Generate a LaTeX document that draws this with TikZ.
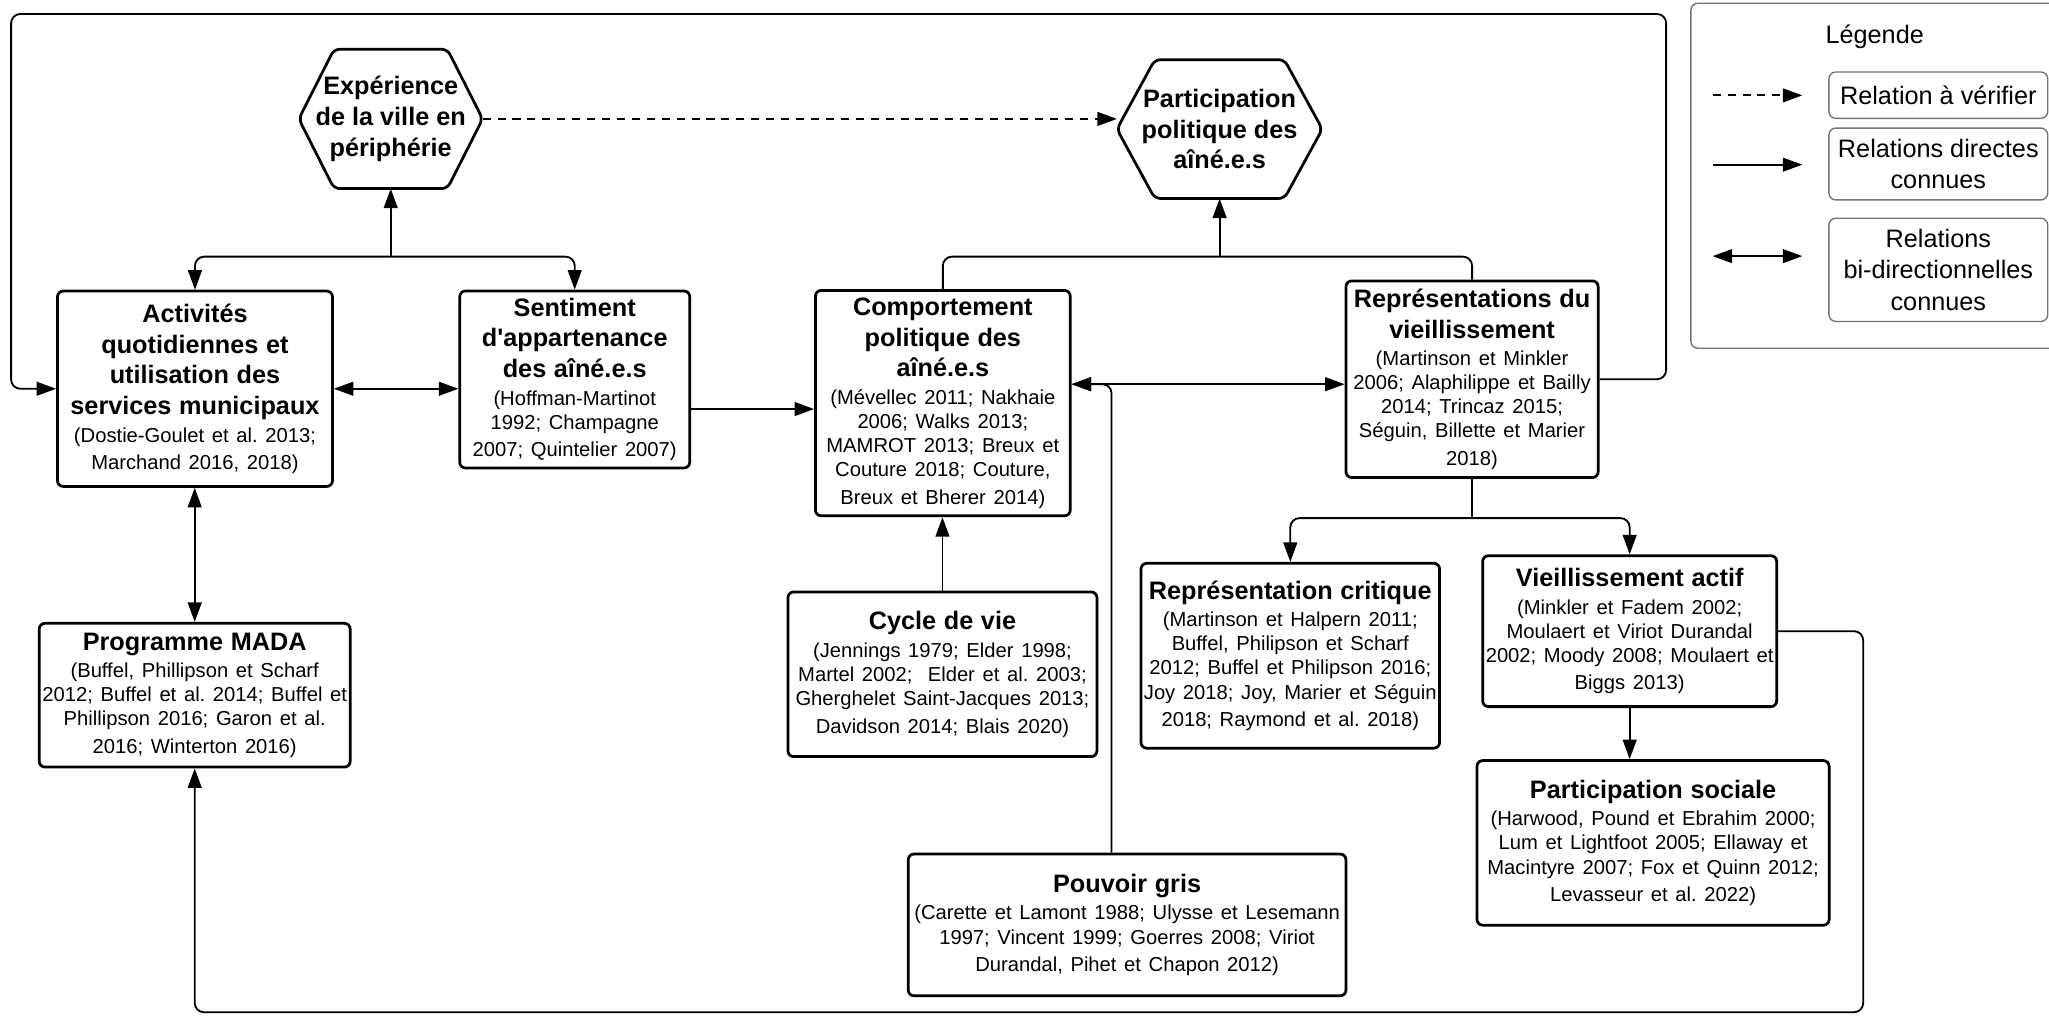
\documentclass[tikz,border=0pt]{standalone}
\usepackage{fontspec}
\setmainfont{Liberation Sans}
\usetikzlibrary{arrows.meta}
\frenchspacing
\newcommand\titleFont{\fontsize{11}{13.4}\selectfont\bfseries}
\newcommand\citeFont{\par\vspace{1.5pt}\fontsize{8.8}{10.5}\selectfont\mdseries}
\newcommand\legendFont{\fontsize{11}{13.7}\selectfont}

\begin{document}
\begin{tikzpicture}
[x=0.02cm, y=-0.02cm,
  boxDecorate/.style={shape=rectangle,draw,line width=1.2pt,rounded corners=2.5pt,%
    align=center,inner xsep=1pt,inner ysep=0pt},%
  hexDecorate/.style={shape=rectangle,align=center,inner sep=0pt,font=\titleFont},%
  hexLine/.style={line width=1.2pt,rounded corners=2.5pt},%
  legendDecorate/.style={shape=rectangle,draw=black!55,line width=0.6pt,rounded corners=3pt,%
    align=center,inner sep=0pt,font=\legendFont},%
  lineDecorate/.style={line width=0.8pt,rounded corners=4pt},%
  arrowDecorate/.style={lineDecorate,-{Triangle[length=8.5pt,width=6pt]}},%
  biArrowDecorate/.style={lineDecorate,{Triangle[length=8.5pt,width=6pt]}-{Triangle[length=8.5pt,width=6pt]}},%
  dashDecorate/.style={arrowDecorate,dash pattern=on 3.5pt off 3pt}]
\useasboundingbox (0,0) rectangle (1568,777);
%% hexagons
\node (exp) at (299,91) [hexDecorate,minimum width=2.8cm,minimum height=2.12cm]
  {Expérience\\de la ville en\\périphérie};
\node (part) at (933.3,98.8) [hexDecorate,minimum width=3.13cm,minimum height=2.11cm]
  {Participation\\politique des\\aîné.e.s};
\foreach \hex/\dx in {exp/0.54cm, part/0.58cm}
{
  \draw[hexLine] (\hex.west) -- ([xshift=\dx]\hex.north west) -- ([xshift=-\dx]\hex.north east)
    -- (\hex.east) -- ([xshift=-\dx]\hex.south east) -- ([xshift=\dx]\hex.south west) -- cycle;
}
%% boxes
\node (act) at (149.2,297.5) [boxDecorate,text width=4.14cm,minimum height=2.99cm]
  {\titleFont Activités\\quotidiennes et\\utilisation des\\services municipaux%
   \citeFont (Dostie-Goulet et al. 2013;\\Marchand 2016, 2018)};
\node (sent) at (439.8,290.4) [boxDecorate,text width=3.45cm,minimum height=2.71cm]
  {\titleFont Sentiment\\d\textquotesingle appartenance\\des aîné.e.s%
   \citeFont (Hoffman-Martinot\\1992; Champagne\\2007; Quintelier 2007)};
\node (comp) at (721.5,308.5) [boxDecorate,text width=3.83cm,minimum height=3.45cm]
  {\titleFont Comportement\\politique des\\aîné.e.s%
   \citeFont (Mévellec 2011; Nakhaie\\2006; Walks 2013;\\MAMROT 2013; Breux et\\Couture 2018; Couture,\\Breux et Bherer 2014)};
\node (repr) at (1126.5,290.2) [boxDecorate,text width=3.79cm,minimum height=3.01cm]
  {\titleFont Représentations du\\vieillissement%
   \citeFont (Martinson et Minkler\\2006; Alaphilippe et Bailly\\2014; Trincaz 2015;\\Séguin, Billette et Marier\\2018)};
\node (cycle) at (721.2,516) [boxDecorate,text width=4.66cm,minimum height=2.52cm]
  {\titleFont Cycle de vie%
   \citeFont (Jennings 1979; Elder 1998;\\Martel 2002;\ \ Elder et al. 2003;\\Gherghelet Saint-Jacques 2013;\\Davidson 2014; Blais 2020)};
\node (pouvoir) at (862.5,707.8) [boxDecorate,text width=6.63cm,minimum height=2.17cm]
  {\titleFont Pouvoir gris%
   \citeFont (Carette et Lamont 1988; Ulysse et Lesemann\\1997; Vincent 1999; Goerres 2008; Viriot\\Durandal, Pihet et Chapon 2012)};
\node (crit) at (987.4,501.8) [boxDecorate,text width=4.50cm,minimum height=2.83cm]
  {\titleFont Représentation critique%
   \citeFont (Martinson et Halpern 2011;\\Buffel, Philipson et Scharf\\2012; Buffel et Philipson 2016;\\Joy 2018; Joy, Marier et Séguin\\2018; Raymond et al. 2018)};
\node (actif) at (1247.1,483) [boxDecorate,text width=4.43cm,minimum height=2.31cm]
  {\titleFont Vieillissement actif%
   \citeFont (Minkler et Fadem 2002;\\Moulaert et Viriot Durandal\\2002; Moody 2008; Moulaert et\\Biggs 2013)};
\node (soc) at (1265,645) [boxDecorate,text width=5.32cm,minimum height=2.52cm]
  {\titleFont Participation sociale%
   \citeFont (Harwood, Pound et Ebrahim 2000;\\Lum et Lightfoot 2005; Ellaway et\\Macintyre 2007; Fox et Quinn 2012;\\Levasseur et al. 2022)};
\node (mada) at (149,532) [boxDecorate,text width=4.69cm,minimum height=2.2cm]
  {\titleFont Programme MADA%
   \citeFont (Buffel, Phillipson et Scharf\\2012; Buffel et al. 2014; Buffel et\\Phillipson 2016; Garon et al.\\2016; Winterton 2016)};
%% bends and junctions
\coordinate (j1) at (299,196.4);
\coordinate (j2) at (933.3,196.4);
\coordinate (j3) at (1126.5,396.5);
\coordinate (pg) at (850.6,294);
\coordinate (ltop) at (8.5,10.7);
\coordinate (rtop) at (1275,10.7);
\coordinate (rbot) at (1425.8,774.6);
%% edges
\draw[dashDecorate] (exp.east) -- (exp.east -| part.west);
\draw[arrowDecorate] (j1) -- (exp.south);
\draw[arrowDecorate] (j1) -| (act.north);
\draw[arrowDecorate] (j1) -| (sent.north);
\draw[biArrowDecorate] (act.east) -- (act.east -| sent.west);
\draw[biArrowDecorate] (mada.north) -- (mada.north |- act.south);
\draw[arrowDecorate] (sent.east |- 0,313) -- (comp.west |- 0,313);
\draw[lineDecorate] (comp.north) |- (j2);
\draw[lineDecorate] (repr.north) |- (j2);
\draw[arrowDecorate] (j2) -- (part.south);
\draw[biArrowDecorate] (comp.east |- pg) -- (repr.west |- pg);
\draw[arrowDecorate] (pouvoir.north -| pg) |- (comp.east |- pg);
\draw[arrowDecorate] (cycle.north) -- (cycle.north |- comp.south);
\draw[lineDecorate] (repr.south) -- (j3);
\draw[arrowDecorate] (j3) -| (crit.north);
\draw[arrowDecorate] (j3) -| (actif.north);
\draw[arrowDecorate] (actif.south) -- (actif.south |- soc.north);
\draw[arrowDecorate] (repr.east) -| (rtop) -- (ltop) |- (act.west);
\draw[arrowDecorate] (actif.east) -| (rbot) -| (mada.south);
%% legend
\node (legende) at (1434.4,134.5) [legendDecorate,minimum width=5.62cm,minimum height=5.28cm] {};
\node (legtitle) at (1434.6,28) [font=\legendFont] {Légende};
\node (lverif) at (1483.3,72.8) [legendDecorate,minimum width=3.35cm,minimum height=0.71cm]
  {Relation à vérifier};
\node (ldirect) at (1483.3,125.5) [legendDecorate,minimum width=3.35cm,minimum height=1.1cm]
  {Relations directes\\connues};
\node (lbidir) at (1483.3,206.5) [legendDecorate,minimum width=3.35cm,minimum height=1.58cm]
  {Relations\\bi-directionnelles\\connues};
\coordinate (la1) at (1310.6,73);   \coordinate (lb1) at (1379.2,73);
\coordinate (la2) at (1310.6,126);  \coordinate (lb2) at (1379.2,126);
\coordinate (la3) at (1310.6,196);  \coordinate (lb3) at (1379.2,196);
\draw[dashDecorate] (la1) -- (lb1);
\draw[arrowDecorate] (la2) -- (lb2);
\draw[biArrowDecorate] (la3) -- (lb3);
\end{tikzpicture}
\end{document}
